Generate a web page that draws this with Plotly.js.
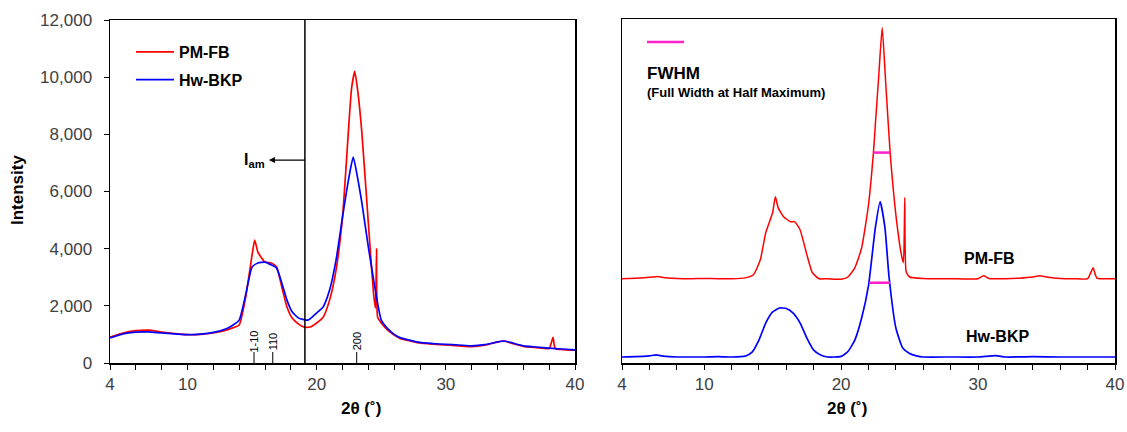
<!DOCTYPE html>
<html>
<head>
<meta charset="utf-8">
<script src="https://cdn.plot.ly/plotly-3.0.1.min.js"></script>
<style>html,body{margin:0;padding:0;background:#fff}#chart{width:1127px;height:432px}</style>
</head>
<body>
<div id="chart"></div>
<script>
// ---- Left panel: raw XRD patterns ----
const leftPmX = [4,5,6,7,8,9,10,11,12,13,13.5,14,14.5,15,15.2,15.45,15.7,16,16.5,16.9,17.3,17.7,18.1,18.6,19,19.5,20,20.5,21,21.5,22,22.5,22.7,22.95,23.2,23.5,24,24.4,24.55,24.64,24.72,25,25.5,26,26.5,27,28,29,30,31,32,33,34,34.5,35,36,37,38,38.3,38.4,38.5,39,40];
const leftPmY = [900,1050,1130,1150,1080,1030,990,1000,1050,1150,1230,1330,2300,3780,4300,3880,3700,3530,3500,3360,2660,1960,1570,1360,1260,1260,1400,1600,2200,3250,5100,8400,9600,10200,9440,8050,4900,2450,1920,4000,1600,1400,1150,980,850,800,700,660,630,600,570,620,730,770,700,580,540,510,900,600,500,470,450];
const leftHwX = [4,5,6,7,8,9,10,11,12,13,13.5,14,14.5,15,15.45,16,16.5,16.9,17.3,17.7,18.1,18.6,19,19.3,19.5,20,20.5,21,21.5,22,22.5,22.83,23.2,23.5,24,24.5,25,25.5,26,26.5,27,28,29,30,31,32,33,34,34.5,35,36,37,38,39,40];
const leftHwY = [880,1020,1080,1090,1050,1020,990,1010,1070,1200,1320,1500,2380,3360,3500,3530,3430,3320,2800,2200,1790,1570,1520,1500,1550,1750,1960,2550,3600,5100,6500,7200,6400,5600,4060,2660,1500,1200,1000,880,820,720,680,650,630,600,640,740,770,720,600,560,520,490,460];

// ---- Right panel: offset patterns ----
const rightPmX = [4,5,6,6.6,7,8,9,10,11,12,13,13.6,14.1,14.5,15,15.2,15.4,15.8,16.3,16.6,17,17.5,17.9,18.4,19,20,20.5,21,21.5,22,22.36,22.5,22.75,23,23.25,23.58,24,24.4,24.55,24.65,24.75,25,26,28,30,30.4,30.8,32,33,34,34.5,35,36,37,38,38.4,38.55,38.7,39,40];
const rightPmY = [2940,2960,2990,3020,2980,2950,2940,2950,2940,2940,2970,3080,3600,4550,5250,5800,5420,5100,4930,4930,4650,3780,3150,2940,2940,2920,3000,3320,4020,5520,7340,8320,10030,11700,9820,7340,5170,3780,3500,5770,3180,3000,2950,2940,2940,3040,2950,2940,2960,3000,3040,3000,2950,2940,2940,3320,3100,2950,2940,2940];
const rightHwX = [4,5,6,6.5,7,8,9,10,11,12,13,13.5,14,14.5,15,15.5,16,16.5,17,17.5,18,18.5,19,20,20.5,21,21.5,22,22.5,22.85,23.2,23.5,24,24.5,25,25.5,26,28,30,31.3,32,34,36,38,40];
const rightHwY = [210,220,250,280,240,210,210,210,220,210,240,380,800,1400,1780,1920,1900,1740,1400,870,450,280,210,230,400,800,1570,2700,4720,5630,4720,3000,1220,520,330,250,210,210,210,260,210,220,210,210,210];

// FWHM markers (x extent, y level)
const fwhmPmX = [22.36, 23.58];
const fwhmPmY = [7340, 7340];
const fwhmHwX = [22.04, 23.58];
const fwhmHwY = [2800, 2800];

// Axis ticks
const xTickVals = [4,10,20,30,40];
const xMinorVals = [4,6,8,10,12,14,16,18,20,22,24,26,28,30,32,34,36,38,40];
const yTickVals = [0,2000,4000,6000,8000,10000,12000];

// Reflection labels
const peakLabels = ['1-10','110','200'];
const peakPos = [15.15, 16.6, 23.1];

const FONT = 'Arial, "Liberation Sans", sans-serif';
const RED = '#ff0000', BLUE = '#0000ff', MAG = '#ff22cc';
const SPL = {shape: 'spline', smoothing: 0.5};

const traces = [
  {x: leftPmX, y: leftPmY, type: 'scatter', mode: 'lines', name: 'PM-FB', legendgroup: 'a',
   line: Object.assign({color: RED, width: 1.7}, SPL), xaxis: 'x', yaxis: 'y'},
  {x: leftHwX, y: leftHwY, type: 'scatter', mode: 'lines', name: 'Hw-BKP', legendgroup: 'b',
   line: Object.assign({color: BLUE, width: 1.7}, SPL), xaxis: 'x', yaxis: 'y'},
  {x: rightPmX, y: rightPmY, type: 'scatter', mode: 'lines', showlegend: false,
   line: Object.assign({color: RED, width: 1.5}, SPL), xaxis: 'x2', yaxis: 'y2'},
  {x: rightHwX, y: rightHwY, type: 'scatter', mode: 'lines', showlegend: false,
   line: Object.assign({color: BLUE, width: 1.7}, SPL), xaxis: 'x2', yaxis: 'y2'},
  {x: fwhmPmX, y: fwhmPmY, type: 'scatter', mode: 'lines', showlegend: false,
   line: {color: MAG, width: 2.5}, xaxis: 'x2', yaxis: 'y2'},
  {x: fwhmHwX, y: fwhmHwY, type: 'scatter', mode: 'lines', showlegend: false,
   line: {color: MAG, width: 2.5}, xaxis: 'x2', yaxis: 'y2'}
];

const W = 1127, H = 432;
const px = v => v / W, py = v => (H - v) / H;

const xCommon = {
  range: [4, 40], tickmode: 'array', tickvals: xTickVals,
  ticks: 'outside', ticklen: 5, tickwidth: 1, tickcolor: '#000',
  minor: {tickmode: 'array', tickvals: xMinorVals, ticks: 'outside', ticklen: 5, tickwidth: 1, tickcolor: '#000', showgrid: false},
  showline: true, linecolor: '#000', linewidth: 1.5, mirror: true,
  showgrid: false, zeroline: false,
  tickfont: {family: FONT, size: 17, color: '#404040'}
};

const shapes = [
  {type: 'line', xref: 'x', yref: 'y domain', x0: 19.09, x1: 19.09, y0: 0, y1: 1,
   line: {color: '#000', width: 1.5}},
  {type: 'line', xref: 'paper', yref: 'paper', x0: px(647), x1: px(684), y0: py(42), y1: py(42),
   line: {color: MAG, width: 2.5}}
];
const annotations = [
  {xref: 'x', yref: 'y', x: 19.09, y: 7100, ax: -50, ay: 0, text: '<b>I<sub>am</sub></b>',
   showarrow: true, arrowside: 'start', arrowhead: 2, startarrowhead: 2, startarrowsize: 1, arrowwidth: 1.2,
   arrowcolor: '#000', standoff: 0, startstandoff: 2, font: {family: FONT, size: 16, color: '#000'}},
  {xref: 'paper', yref: 'paper', x: px(339), y: py(420), text: '<b>2θ (˚)</b>', showarrow: false,
   font: {family: FONT, size: 17, color: '#000'}},
  {xref: 'paper', yref: 'paper', x: px(869), y: py(420), text: '<b>2θ (˚)</b>', showarrow: false,
   font: {family: FONT, size: 17, color: '#000'}},
  {xref: 'paper', yref: 'paper', x: px(18), y: py(190), xanchor: 'center', text: '<b>Intensity</b>', showarrow: false,
   textangle: -90, font: {family: FONT, size: 17, color: '#000'}},
  {xref: 'paper', yref: 'paper', x: px(645), y: py(62), xanchor: 'left', text: '<b>FWHM</b>', showarrow: false,
   font: {family: FONT, size: 17, color: '#000'}},
  {xref: 'paper', yref: 'paper', x: px(645), y: py(83), xanchor: 'left', text: '<b>(Full Width at Half Maximum)</b>',
   showarrow: false, font: {family: FONT, size: 13, color: '#000'}},
  {xref: 'x2', yref: 'y2', x: 30.8, y: 3640, text: '<b>PM-FB</b>', showarrow: false,
   font: {family: FONT, size: 16, color: '#000'}},
  {xref: 'x2', yref: 'y2', x: 31.4, y: 910, text: '<b>Hw-BKP</b>', showarrow: false,
   font: {family: FONT, size: 16, color: '#000'}}
];
peakLabels.forEach((t, i) => {
  annotations.push({xref: 'x', yref: 'y', x: peakPos[i], y: 750, text: t, textangle: -90, showarrow: false,
    font: {family: FONT, size: 11, color: '#000'}});
  shapes.push({type: 'line', xref: 'x', yref: 'y', x0: peakPos[i], x1: peakPos[i], y0: 0, y1: 385,
    line: {color: '#000', width: 1}});
});

const layout = {
  width: W, height: H,
  margin: {l: 0, r: 0, t: 0, b: 0},
  paper_bgcolor: '#fff', plot_bgcolor: '#fff',
  showlegend: true,
  legend: {x: px(131), y: py(35), xanchor: 'left', yanchor: 'top', bgcolor: 'rgba(0,0,0,0)', itemwidth: 38,
    font: {family: FONT, size: 16, color: '#000', weight: 'bold'}, traceorder: 'grouped', tracegroupgap: 4},
  xaxis: Object.assign({}, xCommon, {domain: [px(110), px(575)], anchor: 'y'}),
  yaxis: {domain: [py(363), py(20)], range: [0, 12000], tickmode: 'array', tickvals: yTickVals, tickformat: ',d',
    ticks: 'outside', ticklen: 5, tickcolor: '#000', showline: true, linecolor: '#000', linewidth: 1.5,
    mirror: true, showgrid: false, zeroline: false, anchor: 'x', ticklabelstandoff: 8,
    tickfont: {family: FONT, size: 17, color: '#404040'}},
  xaxis2: Object.assign({}, xCommon, {domain: [px(622), px(1115)], anchor: 'y2'}),
  yaxis2: {domain: [py(363), py(19)], range: [0, 12000], showticklabels: false, ticks: '',
    showline: true, linecolor: '#000', linewidth: 1.5, mirror: true, showgrid: false, zeroline: false, anchor: 'x2'},
  shapes: shapes,
  annotations: annotations
};

Plotly.newPlot('chart', traces, layout, {displayModeBar: false, staticPlot: true});
</script>
</body>
</html>
